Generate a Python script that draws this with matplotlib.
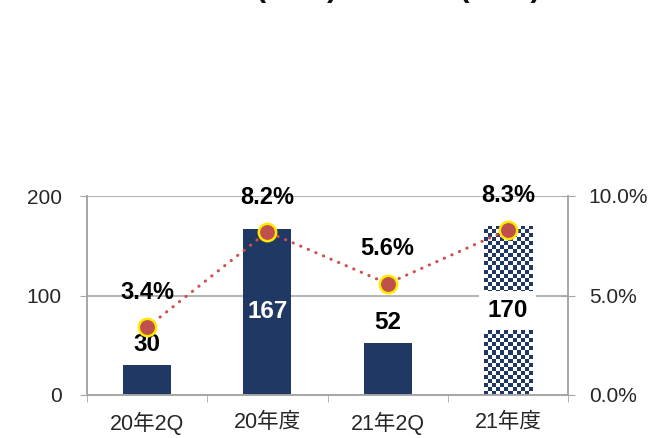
import matplotlib
matplotlib.use("Agg")
import matplotlib.pyplot as plt
import numpy as np
from matplotlib.colors import ListedColormap

plt.rcParams['font.family'] = ['Liberation Sans', 'Noto Sans CJK JP', 'DejaVu Sans']

categories = ["20年2Q", "20年度", "21年2Q", "21年度"]
amounts = [30, 167, 52, 170]
rates = [3.4, 8.2, 5.6, 8.3]
amount_labels = ["30", "167", "52", "170"]
rate_labels = ["3.4%", "8.2%", "5.6%", "8.3%"]
left_ticks = [0, 100, 200]
right_ticks = [0, 5, 10]
right_tick_labels = ["0.0%", "5.0%", "10.0%"]
title_text = "営業利益(億円)・利益率(右軸)"

navy = "#1F3864"
grid_c = "#A6A6A6"
red = "#CF4F4C"

fig = plt.figure(figsize=(6.5, 4.38), dpi=100)
ax = fig.add_axes([87/650, 1-395/438, (568-87)/650, (395-196)/438])
ax2 = ax.twinx()

x = np.arange(len(categories))
w = 0.4
bars = ax.bar(x, amounts, width=w, color=navy, zorder=2)

# last bar: checkerboard pattern
last = bars[-1]
last.set_facecolor("white")
ncols, nrows = 12, 42
checker = (np.add.outer(np.arange(nrows), np.arange(ncols)) % 2)
cmap = ListedColormap(["white", navy])
bx0 = last.get_x()
im = ax.imshow(checker, extent=(bx0, bx0 + last.get_width(), 0, last.get_height()),
               cmap=cmap, interpolation="nearest", aspect="auto", zorder=2.5)
im.set_clip_path(last)

ax.set_xlim(-0.5, len(categories) - 0.5)
ax.set_ylim(0, 200)
ax.set_yticks(left_ticks)
ax.set_xticks(x)
ax.set_xticklabels(categories)
ax.set_xticks(np.arange(len(categories) + 1) - 0.5, minor=True)
ax.tick_params(axis="x", which="major", length=0, pad=12, labelsize=15.5, labelcolor="#262626")
ax.tick_params(axis="x", which="minor", length=5, color=grid_c, direction="out")
ax.tick_params(axis="y", length=5, color=grid_c, direction="out", pad=13, labelsize=15, labelcolor="#262626")
ax.grid(axis="y", color=grid_c, linewidth=1.2, zorder=0)
ax.set_axisbelow(True)
ax.spines["top"].set_visible(False)
ax2.spines["top"].set_visible(False)
for s in ["left", "bottom", "right"]:
    for a in (ax, ax2):
        a.spines[s].set_color(grid_c)
        a.spines[s].set_linewidth(1.2)

# bar labels
for i, (v, lab) in enumerate(zip(amounts, amount_labels)):
    if i == 1:
        ax.text(x[i], v / 2, lab, ha="center", va="center", fontsize=17.5,
                fontweight="bold", color="white", zorder=4)
    elif i == 3:
        ax.text(x[i], v / 2, lab, ha="center", va="center", fontsize=17.5,
                fontweight="bold", color="black", zorder=4,
                bbox=dict(facecolor="white", edgecolor="none", pad=6))
    else:
        ax.annotate(lab, (x[i], v), xytext=(0, 15), textcoords="offset points",
                    ha="center", va="center", fontsize=17.5, fontweight="bold",
                    color="black", zorder=4)

ax2.plot(x, rates, linestyle=(0, (0.1, 2.6)), dash_capstyle="round", color=red,
         linewidth=2.2, marker="o", markersize=12.5, markerfacecolor="#C0504D",
         markeredgecolor="#FFE800", markeredgewidth=1.8, zorder=5)
ax2.set_ylim(0, 10)
ax2.set_yticks(right_ticks)
ax2.set_yticklabels(right_tick_labels)
ax2.tick_params(axis="y", length=10, color=grid_c, direction="inout", pad=10,
                labelsize=15, labelcolor="#262626")
for xi, r, lab in zip(x, rates, rate_labels):
    ax2.annotate(lab, (xi, r), xytext=(0, 25), textcoords="offset points",
                 ha="center", va="center", fontsize=17, fontweight="bold",
                 color="black", zorder=6)

fig.text(0.52, 1 + 4/438, title_text, ha="center", va="baseline",
         fontsize=22, fontweight="bold", color="#111111")

fig.savefig("out.png", dpi=100)
